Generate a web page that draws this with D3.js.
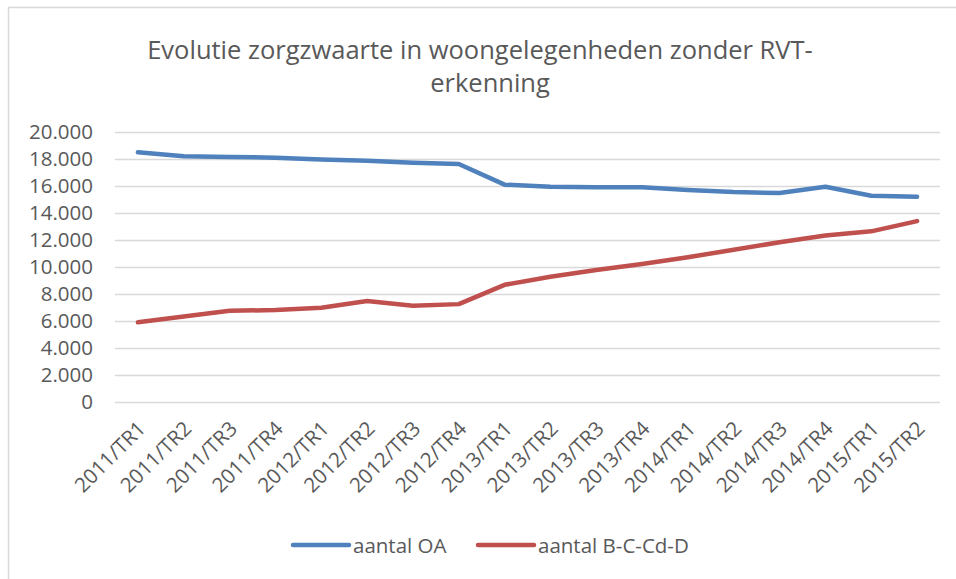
<!DOCTYPE html>
<html>
<head>
<meta charset="utf-8">
<script src="https://cdn.jsdelivr.net/npm/d3@7"></script>
<style>
  body { margin: 0; background: #fff; }
  text { font-family: "Open Sans", sans-serif; fill: #595959; }
</style>
</head>
<body>
<div id="chart"></div>
<script>
// quarters on the x axis
var quarters = ['2011/TR1','2011/TR2','2011/TR3','2011/TR4',
                '2012/TR1','2012/TR2','2012/TR3','2012/TR4',
                '2013/TR1','2013/TR2','2013/TR3','2013/TR4',
                '2014/TR1','2014/TR2','2014/TR3','2014/TR4',
                '2015/TR1','2015/TR2'];
// aantal OA
var aantalOA = [18500, 18200, 18150, 18100, 17970, 17870, 17720, 17630,
                16100, 15950, 15900, 15900, 15700, 15550, 15480, 15950,
                15280, 15200];
// aantal B-C-Cd-D
var aantalBCD = [5900, 6330, 6760, 6810, 6980, 7480, 7130, 7250,
                 8680, 9280, 9780, 10230, 10720, 11280, 11830, 12340,
                 12640, 13400];
var yTicks = [0, 2000, 4000, 6000, 8000, 10000, 12000, 14000, 16000, 18000, 20000];
var titleLines = ['Evolutie zorgzwaarte in woongelegenheden zonder RVT-', 'erkenning'];

var series = [
  {name: 'aantal OA', values: aantalOA, color: '#4f81bd'},
  {name: 'aantal B-C-Cd-D', values: aantalBCD, color: '#c0504d'}
];

var W = 956, H = 579;
var svg = d3.select('#chart').append('svg')
    .attr('width', W)
    .attr('height', H);

// chart frame (runs off the bottom/right edge like the screenshot)
svg.append('rect')
    .attr('x', 8.5).attr('y', 7.5)
    .attr('width', W + 20).attr('height', H + 20)
    .attr('fill', 'none')
    .attr('stroke', '#d9d9d9')
    .attr('stroke-width', 1.5);

// title
var titleX = [480, 490];
svg.append('text')
    .attr('text-anchor', 'middle')
    .style('font-size', '25.5px')
    .selectAll('tspan')
    .data(titleLines)
    .enter()
    .append('tspan')
    .attr('x', function(d, i){ return titleX[i]; })
    .attr('y', function(d, i){ return 59 + i * 33; })
    .text(function(d){ return d; });

var x = d3.scaleBand().domain(quarters).range([115, 940]);
var y = d3.scaleLinear().domain([0, 20000]).range([402, 132]);

// gridlines
svg.append('g')
    .selectAll('line')
    .data(yTicks)
    .enter()
    .append('line')
    .attr('x1', 115).attr('x2', 940)
    .attr('y1', function(d){ return Math.round(y(d)) + 0.5; })
    .attr('y2', function(d){ return Math.round(y(d)) + 0.5; })
    .attr('stroke', '#d9d9d9')
    .attr('stroke-width', 1.5);

// y axis labels
var yAxis = d3.axisLeft(y)
    .tickValues(yTicks)
    .tickSize(0)
    .tickPadding(0)
    .tickFormat(function(d){ return d3.format(',')(d).replace(/,/g, '.'); });
var gy = svg.append('g')
    .attr('transform', 'translate(93,0)')
    .call(yAxis);
gy.select('.domain').remove();
gy.selectAll('text')
    .style('font-size', '20.5px')
    .style('font-family', '"Open Sans", sans-serif')
    .attr('fill', '#595959');

// x axis labels, rotated
var xAxis = d3.axisBottom(x).tickSize(0).tickPadding(0);
var gx = svg.append('g')
    .attr('transform', 'translate(0,402)')
    .call(xAxis);
gx.select('.domain').remove();
gx.selectAll('text')
    .style('font-size', '20.5px')
    .style('font-family', '"Open Sans", sans-serif')
    .attr('fill', '#595959')
    .attr('text-anchor', 'end')
    .attr('dy', 0)
    .attr('y', 0)
    .attr('transform', 'translate(9,28) rotate(-45)');

// lines
var line = d3.line()
    .x(function(d, i){ return x(quarters[i]) + x.bandwidth() / 2; })
    .y(function(d){ return y(d); });

svg.selectAll('.serie')
    .data(series)
    .enter()
    .append('path')
    .classed('serie', 1)
    .attr('d', function(d){ return line(d.values); })
    .attr('fill', 'none')
    .attr('stroke', function(d){ return d.color; })
    .attr('stroke-width', 4.5)
    .attr('stroke-linecap', 'round')
    .attr('stroke-linejoin', 'round');

// legend
var legendX = [293, 478];
var legend = svg.selectAll('.legend')
    .data(series)
    .enter()
    .append('g')
    .classed('legend', 1)
    .attr('transform', function(d, i){ return 'translate(' + legendX[i] + ',545)'; });
legend.append('line')
    .attr('x1', 0).attr('x2', 56)
    .attr('stroke', function(d){ return d.color; })
    .attr('stroke-width', 4.5)
    .attr('stroke-linecap', 'round');
legend.append('text')
    .attr('x', 60)
    .attr('y', 7.5)
    .style('font-size', '20.5px')
    .text(function(d){ return d.name; });
</script>
</body>
</html>
